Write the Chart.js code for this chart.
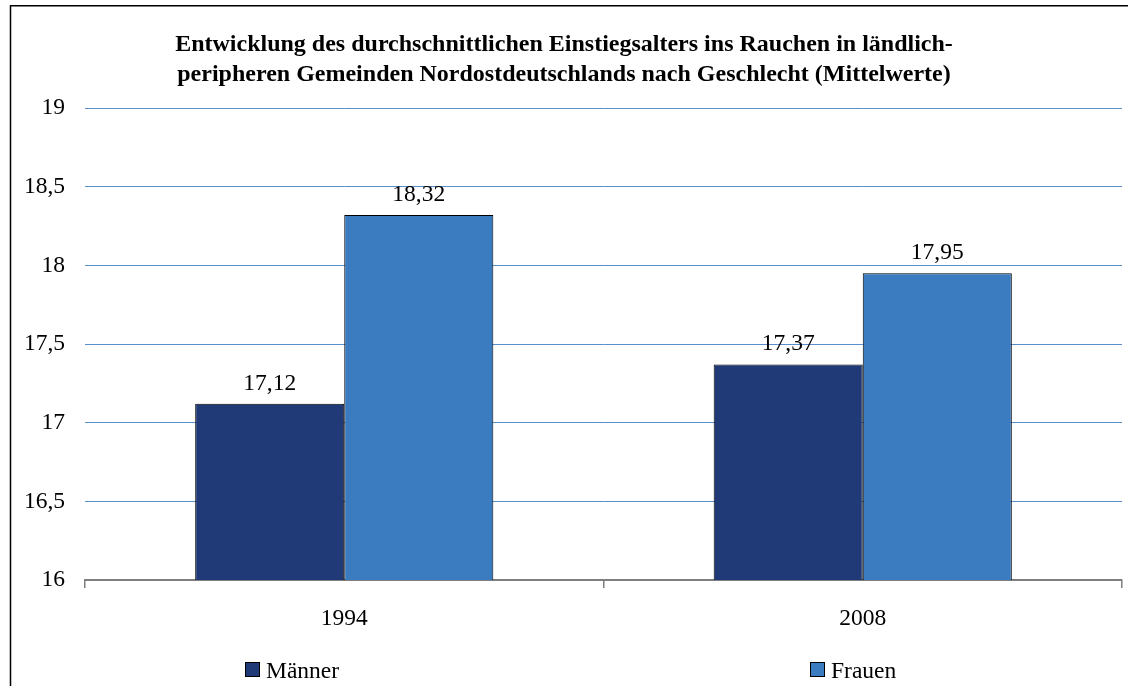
<!DOCTYPE html>
<html>
<head>
<meta charset="utf-8">
<script src="https://cdn.jsdelivr.net/npm/chart.js@4/dist/chart.umd.min.js"></script>
<style>
  html, body { margin: 0; padding: 0; background: #ffffff; }
  #wrap { width: 1128px; height: 686px; position: relative; }
</style>
</head>
<body>
<div id="wrap"><canvas id="c" width="1128" height="686"></canvas></div>
<script>
// Survey years and mean starting age for smoking, by sex
const years = ['1994', '2008'];
const maenner = [17.12, 17.37];
const frauen = [18.32, 17.95];
const seriesNames = ['Männer', 'Frauen'];
const yTicks = [16, 16.5, 17, 17.5, 18, 18.5, 19];

const titleLines = [
  'Entwicklung des durchschnittlichen Einstiegsalters ins Rauchen in ländlich-',
  'peripheren Gemeinden Nordostdeutschlands nach Geschlecht (Mittelwerte)'
];

const SERIF = '"Liberation Serif", "Times New Roman", serif';
const FONT_SIZE = 23.5;
const comma = v => String(v).replace('.', ',');

// Outer frame of the chart object
const framePlugin = {
  id: 'frame',
  beforeDraw(chart) {
    const ctx = chart.ctx;
    ctx.save();
    ctx.fillStyle = '#ffffff';
    ctx.fillRect(0, 0, chart.width, chart.height);
    ctx.strokeStyle = '#000000';
    ctx.lineWidth = 1.5;
    ctx.beginPath();
    ctx.moveTo(10.5, chart.height + 5);
    ctx.lineTo(10.5, 5.75);
    ctx.lineTo(chart.width + 5, 5.75);
    ctx.stroke();
    ctx.restore();
  }
};

// Value labels above each bar
const valueLabels = {
  id: 'valueLabels',
  afterDatasetsDraw(chart) {
    const ctx = chart.ctx;
    ctx.save();
    ctx.font = FONT_SIZE + 'px ' + SERIF;
    ctx.fillStyle = '#000000';
    ctx.textAlign = 'center';
    ctx.textBaseline = 'alphabetic';
    chart.data.datasets.forEach((ds, i) => {
      chart.getDatasetMeta(i).data.forEach((bar, j) => {
        ctx.fillText(ds.data[j].toFixed(2).replace('.', ','), bar.x, bar.y - 14);
      });
    });
    ctx.restore();
  }
};

// Legend along the bottom edge, one entry per series
const bottomLegend = {
  id: 'bottomLegend',
  afterDraw(chart) {
    const ctx = chart.ctx;
    const xs = [245, 810];
    const y = 662;
    ctx.save();
    ctx.font = FONT_SIZE + 'px ' + SERIF;
    ctx.textAlign = 'left';
    ctx.textBaseline = 'alphabetic';
    chart.data.datasets.forEach((ds, i) => {
      ctx.fillStyle = ds.backgroundColor;
      ctx.fillRect(xs[i] + 0.5, y + 0.5, 14, 14);
      ctx.strokeStyle = '#000000';
      ctx.lineWidth = 1;
      ctx.strokeRect(xs[i] + 0.5, y + 0.5, 14, 14);
      ctx.fillStyle = '#000000';
      ctx.fillText(ds.label, xs[i] + 21, y + 16);
    });
    ctx.restore();
  }
};

new Chart(document.getElementById('c'), {
  type: 'bar',
  data: {
    labels: years,
    datasets: [
      { label: seriesNames[0], data: maenner, backgroundColor: '#1F3A77', borderColor: '#000000', borderWidth: 1 },
      { label: seriesNames[1], data: frauen, backgroundColor: '#3B7BBF', borderColor: '#000000', borderWidth: 1 }
    ]
  },
  options: {
    responsive: false,
    animation: false,
    devicePixelRatio: 1,
    layout: { padding: { left: 6, right: 6, top: 0, bottom: 0 } },
    datasets: { bar: { barPercentage: 1, categoryPercentage: 0.575 } },
    plugins: {
      legend: { display: false },
      tooltip: { enabled: false },
      title: {
        display: true,
        text: titleLines,
        color: '#000000',
        font: { family: SERIF, size: 24, weight: 'bold', lineHeight: '30px' },
        padding: { top: 30, bottom: 18 }
      }
    },
    scales: {
      x: {
        offset: true,
        grid: { display: true, offset: true, drawOnChartArea: false, drawTicks: true, tickLength: 8, color: '#7f7f7f', lineWidth: 1.5 },
        border: { display: true, color: '#7f7f7f', width: 2 },
        ticks: { color: '#000000', font: { family: SERIF, size: FONT_SIZE }, padding: 17 },
        afterFit(scale) { scale.height = 106; }
      },
      y: {
        min: 16,
        max: 19,
        afterBuildTicks(scale) { scale.ticks = yTicks.map(v => ({ value: v })); },
        grid: { color: '#5B8FCC', lineWidth: 1, drawTicks: false },
        border: { display: false },
        ticks: { color: '#000000', font: { family: SERIF, size: FONT_SIZE }, padding: 20, callback: v => comma(v) },
        afterFit(scale) { scale.width = 79; }
      }
    }
  },
  plugins: [framePlugin, valueLabels, bottomLegend]
});
</script>
</body>
</html>
